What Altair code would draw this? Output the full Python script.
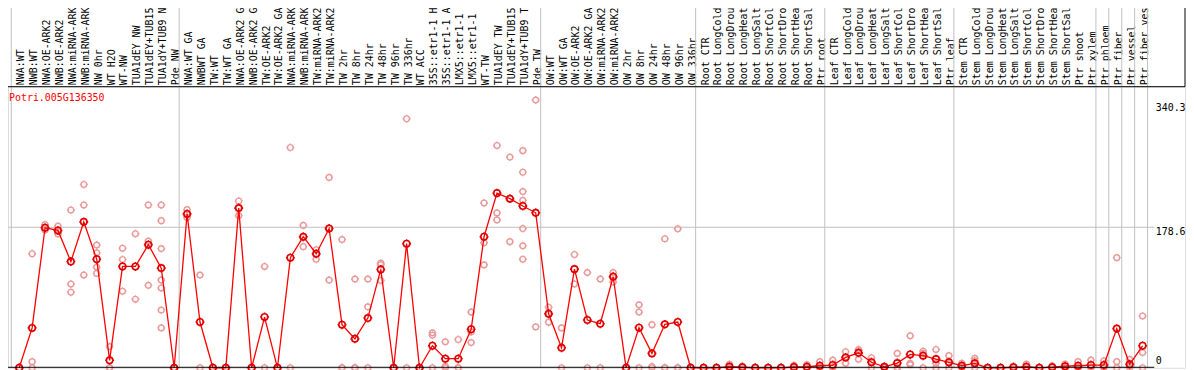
import altair as alt
import pandas as pd

gene = "Potri.005G136350"

labels = [
    "NWA:WT", "NWB:WT", "NWA:OE-ARK2", "NWB:OE-ARK2", "NWA:miRNA-ARK2", "NWB:miRNA-ARK2",
    "NW 0hr", "WT H2O", "WT-NW", "TUA1dEY NW", "TUA1dEY+TUB15", "TUA1dY+TUB9 NW", "Pde NW",
    "NWA:WT GA", "NWBWT GA", "TW:WT", "TW:WT GA", "NWA:OE-ARK2 GA", "NWB:OE-ARK2 GA",
    "TW:OE-ARK2", "TW:OE-ARK2 GA", "NWA:miRNA-ARK2", "NWB:miRNA-ARK2", "TW:miRNA-ARK2",
    "TW:miRNA-ARK2", "TW 2hr", "TW 8hr", "TW 24hr", "TW 48hr", "TW 96hr", "TW 336hr",
    "WT ACC", "35S::etr1-1 H2O", "35S::etr1-1 ACC", "LMX5::etr1-1 H2O", "LMX5::etr1-1 ACC",
    "WT-TW", "TUA1dEY TW", "TUA1dEY+TUB15", "TUA1dY+TUB9 TW", "Pde TW",
    "OW:WT", "OW:WT GA", "OW:OE-ARK2", "OW:OE-ARK2 GA", "OW:miRNA-ARK2", "OW:miRNA-ARK2",
    "OW 2hr", "OW 8hr", "OW 24hr", "OW 48hr", "OW 96hr", "OW 336hr",
    "Root CTR", "Root LongCold", "Root LongDrought", "Root LongHeat", "Root LongSalt",
    "Root ShortCold", "Root ShortDrought", "Root ShortHeat", "Root ShortSalt", "Ptr root",
    "Leaf CTR", "Leaf LongCold", "Leaf LongDrought", "Leaf LongHeat", "Leaf LongSalt",
    "Leaf ShortCold", "Leaf ShortDrought", "Leaf ShortHeat", "Leaf ShortSalt", "Ptr leaf",
    "Stem CTR", "Stem LongCold", "Stem LongDrought", "Stem LongHeat", "Stem LongSalt",
    "Stem ShortCold", "Stem ShortDrought", "Stem ShortHeat", "Stem ShortSalt", "Ptr shoot",
    "Ptr xylem", "Ptr phloem", "Ptr fiber", "Ptr vessel", "Ptr fiber vessel",
]

means = [
    0, 50.7, 178, 174.6, 135, 185.5, 138, 9.5, 128.8, 128.8, 156.5, 126.7, 0,
    195.6, 58.2, 0, 0, 203, 0, 64.5, 0, 140, 166.6, 145, 177, 54.8, 36.8, 63.2, 125,
    0, 157.8, 0, 28, 11.6, 11.6, 49, 166.6, 222, 215, 205.7, 197,
    68.7, 25.4, 125.4, 60.7, 56, 115.7, 0, 51, 18.3, 55.2, 58.2, 0,
    0, 0, 1.5, 0.7, 0, 0, 0, 1, 1.3, 2.6, 3.5,
    13.2, 19, 7, 1.2, 6, 17, 15.4, 11, 7, 2.7,
    5.7, 0, 0, 0.7, 1.3, 0, 0.8, 2, 2.6, 3.5,
    3.5, 49.8, 4.4, 28,
]

reps = [
    [0, 0], [145, 7.8, 0], [182, 178, 175], [180, 174, 170], [200.6, 106.5, 96],
    [233, 207, 118], [156, 146, 128, 120], [27, 0, 0], [152, 137.6, 97.3], [170.4, 87.2],
    [207, 161, 104.8], [207, 187, 151.5, 111.5, 101.5, 73.3, 50.7], [0, 0],
    [201, 196, 191], [117.8, 0], [0, 0], [0, 0], [212, 203, 193.5], [0, 0],
    [128.8, 0], [0, 0], [280, 0], [181, 166, 154], [150, 145, 138], [242, 177, 111.5],
    [163, 0, 0], [112.8, 0, 0], [112.8, 77.5, 0], [133, 131, 111], [0, 0],
    [316.6, 0], [0, 0], [44.4, 41.4, 0], [33, 2, 0], [36, 0, 0], [70.8, 45.6, 32],
    [209.5, 159, 130.8], [282.6, 196.9, 188], [267.8, 215, 160.3],
    [276, 248.5, 224, 212.8, 177, 155, 138], [340.3, 52],
    [77, 68, 58], [50.7, 0], [144, 106.5], [121, 0], [112.8, 0], [121, 117, 109],
    [0, 0], [80, 70.8, 0], [54.8, 1.7, 0], [164, 0, 0], [176.7, 0, 0], [0, 0],
    [0, 0], [0, 0], [4.4, 0, 0], [2, 0], [0, 0], [0, 0], [0, 0], [3, 0, 0], [4, 0, 0],
    [7.8, 0, 0], [9.8, 0, 0],
    [20.4, 13, 5.7], [23.3, 22, 10.7], [12.8, 8, 0], [2, 1, 0], [18.3, 0, 0],
    [40.6, 5.7, 4], [21, 18.3, 0], [23.3, 5.7, 0], [15.4, 5.7, 0], [5.7, 2, 0],
    [12, 9, 0], [0, 0], [0, 0], [2, 0], [4.6, 0, 0], [0, 0], [2.4, 0], [4.6, 1.5, 0],
    [7.8, 0, 0], [9.8, 0, 0],
    [9, 1, 0], [140, 7.8, 0], [10.7, 2, 0], [65.8, 19.5, 0],
]

separators = [-1, 12, 40, 52, 62, 72, 83, 84, 85, 86, 87]
grid_values = [178.6]
ytick_values = [340.3, 178.6, 0]
y_top = 357.3

mean_df = pd.DataFrame({"idx": list(range(len(labels))), "mean": means})
rep_df = pd.DataFrame([{"idx": i, "val": v} for i, vals in enumerate(reps) for v in vals])
sep_df = pd.DataFrame({"after": separators})
grid_df = pd.DataFrame({"v": grid_values})

W, H = 1185, 283
TOP = 78
UP = -86      # top edge of the label band, relative to the plot top
DATA_R = 1154  # right end of the data frame (before the value column)

x_scale = alt.Scale(domain=[-0.8692, 90.285], nice=False, zero=False)
y_scale = alt.Scale(domain=[0, y_top], nice=False, zero=True)

label_expr = "[" + ",".join("'" + s + "'" for s in labels) + "][datum.value]"
x_axis = alt.Axis(
    orient="top", values=list(range(len(labels))), labelExpr=label_expr,
    labelAngle=270, labelAlign="left", labelBaseline="middle", labelPadding=2,
    labelOverlap=False, labelFlush=False, labelBound=False, ticks=False, grid=False,
    domain=False, title=None,
    labelFont="DejaVu Sans Mono", labelFontSize=10, labelColor="black", labelOffset=1.5,
)
x_enc = alt.X("idx:Q", scale=x_scale, axis=x_axis)

marker_path = ("M-0.72,0A0.72,0.72 0 1,0 0.72,0A0.72,0.72 0 1,0 -0.72,0"
               "M0,-0.72L0,-1M0,0.72L0,1M-0.72,0L-1,0M0.72,0L1,0")

seps = alt.Chart(sep_df).transform_calculate(idx="datum.after + 0.385").mark_rule(
    color="#c0c0c0", strokeWidth=1
).encode(x=x_enc, y=alt.value(UP), y2=alt.value(H))

hgrid = alt.Chart(grid_df).mark_rule(color="#c0c0c0", strokeWidth=1).encode(
    y=alt.Y("v:Q", scale=y_scale, axis=None), x=alt.value(-7), x2=alt.value(DATA_R)
)

rep_pts = alt.Chart(rep_df).mark_point(
    shape=marker_path, filled=False, color="#ea9a9a", size=64, strokeWidth=1.4, opacity=1
).encode(x=x_enc, y=alt.Y("val:Q", scale=y_scale, axis=None))

line = alt.Chart(mean_df).mark_line(color="#ff0000", strokeWidth=1.3).encode(
    x=x_enc, y=alt.Y("mean:Q", scale=y_scale, axis=None)
)

mean_pts = alt.Chart(mean_df).mark_point(
    shape=marker_path, filled=False, color="#e00000", size=81, strokeWidth=1.6, opacity=1
).encode(x=x_enc, y=alt.Y("mean:Q", scale=y_scale, axis=None))

frame_df = pd.DataFrame({"k": [0]})
top_line = alt.Chart(frame_df).mark_rule(color="black", strokeWidth=1).encode(
    x=alt.value(-7), x2=alt.value(W), y=alt.value(0)
)
bottom = alt.Chart(frame_df).mark_rule(color="black", strokeWidth=1).encode(
    x=alt.value(-7), x2=alt.value(DATA_R), y=alt.value(H - 0.5)
)
right = alt.Chart(frame_df).mark_rule(color="black", strokeWidth=1).encode(
    x=alt.value(W), y=alt.value(UP), y2=alt.value(0)
)
left = alt.Chart(frame_df).mark_rule(color="black", strokeWidth=1).encode(
    x=alt.value(-6.5), y=alt.value(UP), y2=alt.value(H)
)

title = alt.Chart(pd.DataFrame({"t": [gene]})).mark_text(
    align="left", baseline="middle", font="DejaVu Sans Mono", fontSize=10, color="#ff0000"
).encode(x=alt.value(1), y=alt.value(11), text="t:N")

ytxt = []
for v, dy in [(ytick_values[0], 7.8), (ytick_values[1], 5.2), (ytick_values[2], -7.3)]:
    ytxt.append(
        alt.Chart(pd.DataFrame({"v": [v], "s": [f"{v:g}"]})).mark_text(
            align="left", baseline="middle", font="DejaVu Sans Mono", fontSize=10,
            color="black", dy=dy
        ).encode(x=alt.value(1155.5), y=alt.Y("v:Q", scale=y_scale, axis=None), text="s:N")
    )

chart = alt.layer(
    seps, hgrid, rep_pts, line, mean_pts, top_line, bottom, right, left, title, *ytxt
).properties(
    width=W, height=H,
    autosize=alt.AutoSizeParams(type="none"),
    padding={"left": 0, "top": TOP, "right": 1, "bottom": 1},
).configure_view(stroke=None).configure(background="white")

chart.save("out.html", embed_options={"renderer": "svg", "actions": False})
